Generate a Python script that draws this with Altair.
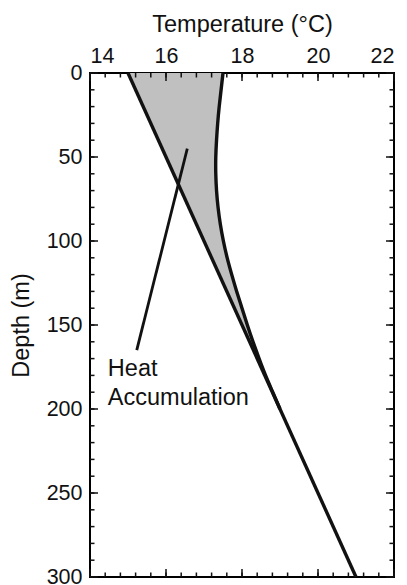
import altair as alt
import pandas as pd

# depth profile (m) and temperatures (°C)
depth_curve = [0, 10, 20, 30, 40, 50, 60, 70, 80, 90, 100, 110, 120, 130, 140, 150, 160, 170, 180, 190, 200]
temp_curve = [17.50, 17.45, 17.40, 17.36, 17.33, 17.31, 17.31, 17.33, 17.37, 17.43, 17.51, 17.61, 17.73,
              17.86, 18.00, 18.14, 18.29, 18.45, 18.62, 18.81, 19.00]
temp_base = [15.0, 15.2, 15.4, 15.6, 15.8, 16.0, 16.2, 16.4, 16.6, 16.8, 17.0, 17.2, 17.4,
             17.6, 17.8, 18.0, 18.2, 18.4, 18.6, 18.8, 19.0]

depth_line = [0, 300]
temp_line = [15.0, 21.0]

# annotation pointer and label
pointer_temp = [16.56, 15.23]
pointer_depth = [45, 165]
label_text = ["Heat", "Accumulation"]
label_temp = [14.47, 14.47]
label_depth = [180.5, 197.5]

x_major = [14, 16, 18, 20, 22]
x_minor = [round(14 + 0.4 * i, 1) for i in range(21)]
y_major = [0, 50, 100, 150, 200, 250, 300]
y_minor = list(range(0, 301, 10))

FONT = "Liberation Sans"
INK = "#111111"
W, H = 304, 504
MAJ, MIN = 8, 4.5

xs = alt.Scale(domain=[14, 22], nice=False, zero=False)
ys = alt.Scale(domain=[0, 300], reverse=True, nice=False, zero=False)

AX_Y = alt.Axis(orient="left", values=y_major, ticks=False, domain=False, grid=False,
                title="Depth (m)", labelPadding=8, titlePadding=13)
AX_X = alt.Axis(orient="top", values=x_major, ticks=False, domain=False, grid=False,
                title="Temperature (°C)", labelPadding=6, titlePadding=9)

area_df = pd.DataFrame({"depth": depth_curve, "base": temp_base, "curve": temp_curve})
curve_df = pd.DataFrame({"depth": depth_curve, "temp": temp_curve})
line_df = pd.DataFrame({"depth": depth_line, "temp": temp_line})
ptr_df = pd.DataFrame({"t1": [pointer_temp[0]], "t2": [pointer_temp[1]],
                       "d1": [pointer_depth[0]], "d2": [pointer_depth[1]]})
lab_df = pd.DataFrame({"text": label_text, "temp": label_temp, "depth": label_depth})

area = alt.Chart(area_df).mark_area(orient="horizontal", color="#c0c0c0", opacity=1,
                                    interpolate="natural").encode(
    y=alt.Y("depth:Q", scale=ys, axis=AX_Y),
    x=alt.X("base:Q", scale=xs, axis=AX_X),
    x2="curve:Q",
)

curve = alt.Chart(curve_df).mark_line(color=INK, strokeWidth=3.4, interpolate="natural").encode(
    y=alt.Y("depth:Q", scale=ys, axis=AX_Y),
    x=alt.X("temp:Q", scale=xs, axis=AX_X),
    order="depth:Q",
)

line = alt.Chart(line_df).mark_line(color=INK, strokeWidth=3.4).encode(
    y=alt.Y("depth:Q", scale=ys, axis=AX_Y),
    x=alt.X("temp:Q", scale=xs, axis=AX_X),
    order="depth:Q",
)

pointer = alt.Chart(ptr_df).mark_rule(color=INK, strokeWidth=2.8).encode(
    y=alt.Y("d1:Q", scale=ys, axis=AX_Y),
    x=alt.X("t1:Q", scale=xs, axis=AX_X),
    y2="d2:Q",
    x2="t2:Q",
)

labels = alt.Chart(lab_df).mark_text(align="left", baseline="alphabetic", font=FONT,
                                     fontSize=23.5, color=INK).encode(
    y=alt.Y("depth:Q", scale=ys, axis=AX_Y),
    x=alt.X("temp:Q", scale=xs, axis=AX_X),
    text="text:N",
)


def xticks(values, y0, y1):
    return alt.Chart(pd.DataFrame({"v": values})).mark_rule(color=INK, strokeWidth=1.5).encode(
        x=alt.X("v:Q", scale=xs, axis=AX_X), y=alt.value(y0), y2=alt.value(y1))


def yticks(values, x0, x1):
    return alt.Chart(pd.DataFrame({"v": values})).mark_rule(color=INK, strokeWidth=1.5).encode(
        y=alt.Y("v:Q", scale=ys, axis=AX_Y), x=alt.value(x0), x2=alt.value(x1))


ticks = [
    xticks(x_minor, 0, MIN), xticks(x_major, 0, MAJ),
    xticks(x_minor, H, H - MIN), xticks(x_major, H, H - MAJ),
    yticks(y_minor, 0, MIN), yticks(y_major, 0, MAJ),
    yticks(y_minor, W, W - MIN), yticks(y_major, W, W - MAJ),
]

chart = alt.layer(area, curve, line, pointer, labels, *ticks).properties(
    width=W, height=H,
    autosize=alt.AutoSizeParams(type="none"),
    padding={"left": 82, "top": 65, "right": 5, "bottom": 8},
).configure_view(
    stroke="black", strokeWidth=2
).configure_axis(
    labelFont=FONT, titleFont=FONT, labelFontSize=21.5, titleFontSize=23.5,
    titleFontWeight="normal", labelColor=INK, titleColor=INK,
)

chart.save("out.html", embed_options={"renderer": "svg", "actions": False})
